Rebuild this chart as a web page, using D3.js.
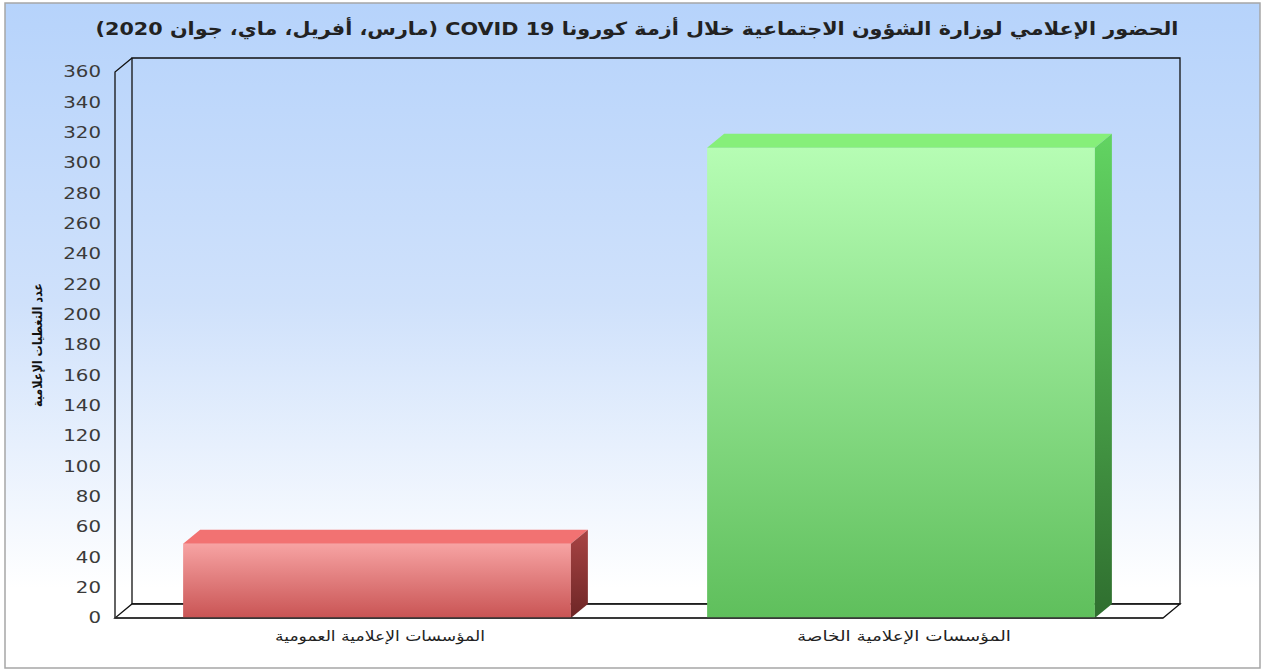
<!DOCTYPE html>
<html>
<head>
<meta charset="utf-8">
<script src="https://cdn.jsdelivr.net/npm/d3@7/dist/d3.min.js"></script>
<style>
  body { margin: 0; background: #fff; }
  text { font-family: "DejaVu Sans", Verdana, sans-serif; }
</style>
</head>
<body>
<div id="chart"></div>
<script>
var categories = ['المؤسسات الإعلامية العمومية', 'المؤسسات الإعلامية الخاصة'];
var values = [49, 310];
var tickValues = [0, 20, 40, 60, 80, 100, 120, 140, 160, 180, 200, 220, 240, 260, 280, 300, 320, 340, 360];
var title = 'الحضور الإعلامي لوزارة الشؤون الاجتماعية خلال أزمة كورونا COVID 19 (مارس، أفريل، ماي، جوان 2020)';
var yTitle = 'عدد التغطيات الإعلامية';

var chartWidth = 1266;
var chartHeight = 672;
var plotLeft = 115, plotRight = 1163, plotTop = 72, plotBottom = 618;
var dx = 17, dy = -14;

var faces = [
  {front: ['#f7a3a3', '#c95454'], top: '#f27272', side: ['#a84444', '#6e2626']},
  {front: ['#b6fdb4', '#5fbf5c'], top: '#86ef7a', side: ['#62d462', '#2f6e2f']}
];

var svg = d3.select('#chart')
    .append('svg')
    .attr('width', chartWidth)
    .attr('height', chartHeight);

var defs = svg.append('defs');
var bg = defs.append('linearGradient').attr('id', 'bg')
    .attr('x1', 0).attr('y1', 0).attr('x2', 0).attr('y2', 1);
bg.append('stop').attr('offset', '0%').attr('stop-color', '#b6d3fb');
bg.append('stop').attr('offset', '45%').attr('stop-color', '#cfe1fb');
bg.append('stop').attr('offset', '88%').attr('stop-color', '#ffffff');

faces.forEach(function(f, i) {
  var g = defs.append('linearGradient').attr('id', 'front' + i)
      .attr('x1', 0).attr('y1', 0).attr('x2', 0).attr('y2', 1);
  g.append('stop').attr('offset', '0%').attr('stop-color', f.front[0]);
  g.append('stop').attr('offset', '100%').attr('stop-color', f.front[1]);
  var s = defs.append('linearGradient').attr('id', 'side' + i)
      .attr('x1', 0).attr('y1', 0).attr('x2', 0).attr('y2', 1);
  s.append('stop').attr('offset', '0%').attr('stop-color', f.side[0]);
  s.append('stop').attr('offset', '100%').attr('stop-color', f.side[1]);
});

// Background and frame
svg.append('rect')
    .attr('x', 5).attr('y', 3)
    .attr('width', 1255).attr('height', 665)
    .attr('fill', 'url(#bg)')
    .attr('stroke', '#a6a6a6')
    .attr('stroke-width', 1.5);

// Scales
var scaleX = d3.scaleBand()
    .domain(categories)
    .range([plotLeft, plotRight])
    .paddingInner(0.26)
    .paddingOuter(0.13);

var scaleY = d3.scaleLinear()
    .domain([0, 360])
    .range([plotBottom, plotTop]);

// Walls and floor
var walls = svg.append('g')
    .attr('fill', 'none')
    .attr('stroke', '#111')
    .attr('stroke-width', 1.3);

walls.append('path')
    .attr('d', 'M' + (plotLeft + dx) + ',' + (scaleY(0) + dy) +
      'L' + (plotLeft + dx) + ',' + (scaleY(360) + dy) +
      'L' + (plotRight + dx) + ',' + (scaleY(360) + dy) +
      'L' + (plotRight + dx) + ',' + (scaleY(0) + dy) + 'Z');

walls.append('path')
    .attr('d', 'M' + plotLeft + ',' + scaleY(0) +
      'L' + plotLeft + ',' + scaleY(360) +
      'L' + (plotLeft + dx) + ',' + (scaleY(360) + dy));

walls.append('path')
    .attr('fill', 'rgba(255,255,255,0.6)')
    .attr('d', 'M' + plotLeft + ',' + scaleY(0) +
      'L' + plotRight + ',' + scaleY(0) +
      'L' + (plotRight + dx) + ',' + (scaleY(0) + dy) +
      'L' + (plotLeft + dx) + ',' + (scaleY(0) + dy) + 'Z');

// Bars
var bars = svg.selectAll('g.bar')
    .data(values)
    .enter()
    .append('g')
    .attr('class', 'bar');

bars.append('rect')
    .attr('x', function(d, i) { return scaleX(categories[i]); })
    .attr('y', function(d) { return scaleY(d); })
    .attr('width', scaleX.bandwidth())
    .attr('height', function(d) { return scaleY(0) - scaleY(d); })
    .attr('fill', function(d, i) { return 'url(#front' + i + ')'; });

bars.append('path')
    .attr('fill', function(d, i) { return faces[i].top; })
    .attr('d', function(d, i) {
      var x0 = scaleX(categories[i]), x1 = x0 + scaleX.bandwidth(), y0 = scaleY(d);
      return 'M' + x0 + ',' + y0 + 'L' + x1 + ',' + y0 +
        'L' + (x1 + dx) + ',' + (y0 + dy) + 'L' + (x0 + dx) + ',' + (y0 + dy) + 'Z';
    });

bars.append('path')
    .attr('fill', function(d, i) { return 'url(#side' + i + ')'; })
    .attr('d', function(d, i) {
      var x1 = scaleX(categories[i]) + scaleX.bandwidth(), y0 = scaleY(d), yb = scaleY(0);
      return 'M' + x1 + ',' + y0 + 'L' + (x1 + dx) + ',' + (y0 + dy) +
        'L' + (x1 + dx) + ',' + (yb + dy) + 'L' + x1 + ',' + yb + 'Z';
    });

// Front floor edge over the bars
svg.append('line')
    .attr('x1', plotLeft).attr('x2', plotRight)
    .attr('y1', scaleY(0)).attr('y2', scaleY(0))
    .attr('stroke', '#333')
    .attr('stroke-width', 1.3);

// Y tick labels (the source font is wide, so stretch horizontally)
svg.selectAll('text.tick')
    .data(tickValues)
    .enter()
    .append('text')
    .attr('class', 'tick')
    .text(function(d) { return d; })
    .attr('transform', function(d) {
      return 'translate(101,' + scaleY(d) + ') scale(1.32,1)';
    })
    .attr('dy', '0.36em')
    .attr('text-anchor', 'end')
    .attr('font-size', 15)
    .attr('fill', '#3a3a3a');

// Category labels
svg.selectAll('text.cat')
    .data(categories)
    .enter()
    .append('text')
    .attr('class', 'cat')
    .text(function(d) { return d; })
    .attr('x', function(d) { return scaleX(d) + scaleX.bandwidth() / 2 + 3; })
    .attr('y', 641)
    .attr('text-anchor', 'middle')
    .attr('direction', 'rtl')
    .attr('font-size', 14)
    .attr('textLength', function(d, i) { return i === 0 ? 210 : 214; })
    .attr('lengthAdjust', 'spacingAndGlyphs')
    .attr('fill', '#222');

// Title
svg.append('text')
    .text(title)
    .attr('x', 637)
    .attr('y', 35)
    .attr('text-anchor', 'middle')
    .attr('direction', 'rtl')
    .attr('font-size', 18)
    .attr('font-weight', 'bold')
    .attr('textLength', 1083)
    .attr('lengthAdjust', 'spacingAndGlyphs')
    .attr('fill', '#222');

// Y axis title
svg.append('text')
    .text(yTitle)
    .attr('transform', 'translate(42,345) rotate(-90)')
    .attr('text-anchor', 'middle')
    .attr('direction', 'rtl')
    .attr('font-size', 13)
    .attr('font-weight', 'bold')
    .attr('textLength', 124)
    .attr('lengthAdjust', 'spacingAndGlyphs')
    .attr('fill', '#111');
</script>
</body>
</html>
